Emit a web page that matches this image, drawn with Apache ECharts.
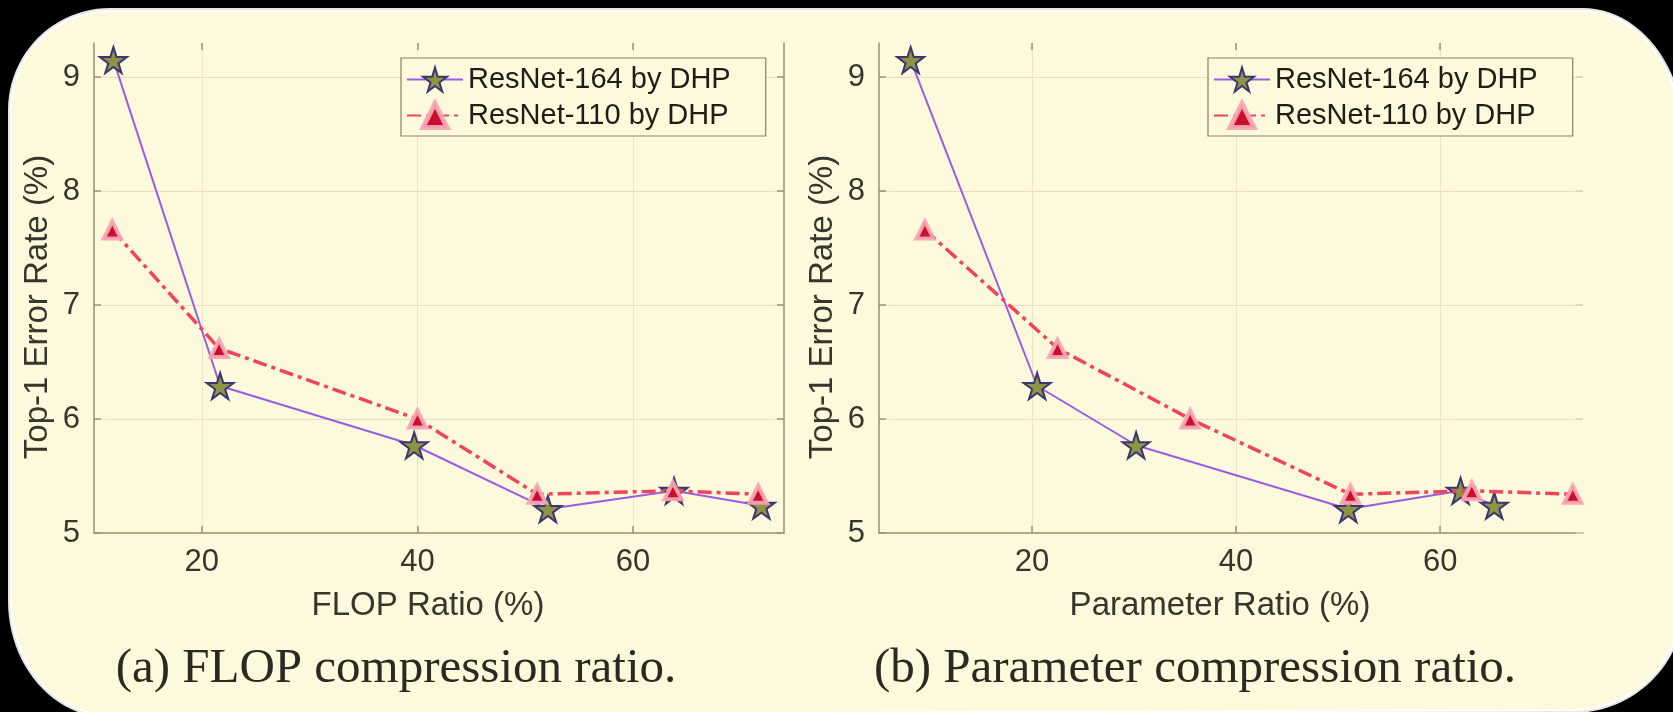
<!DOCTYPE html>
<html>
<head>
<meta charset="utf-8">
<title>DHP: error rate vs compression ratio</title>
<script src="https://cdn.jsdelivr.net/npm/echarts@6/dist/echarts.min.js"></script>
<style>
  html, body { margin: 0; padding: 0; background: #000; }
  #chart { width: 1673px; height: 712px; }
</style>
</head>
<body>
<div id="chart"></div>
<script>
// values
const seriesNames = ["ResNet-164 by DHP", "ResNet-110 by DHP"];
const flopRatio164 = [11.8, 21.7, 39.7, 52.1, 63.8, 71.9];
const flopRatio110 = [11.7, 21.6, 40.0, 51.1, 63.7, 71.6];
const paramRatio164 = [8.1, 20.5, 30.2, 51.0, 62.0, 65.3];
const paramRatio110 = [9.5, 22.5, 35.5, 51.2, 63.1, 73.0];
const error164 = [9.15, 6.29, 5.77, 5.21, 5.37, 5.24];
const error110 = [7.66, 6.62, 6.00, 5.34, 5.37, 5.34];
const xTicks = [20, 40, 60];
const yTicks = [5, 6, 7, 8, 9];
const xNames = ["FLOP Ratio (%)", "Parameter Ratio (%)"];
const yName = "Top-1 Error Rate (%)";
const captions = ["(a) FLOP compression ratio.", "(b) Parameter compression ratio."];

const cream = "#fcf9dc";
const axisColor = "#9a9274";
const labelColor = "#38362c";
const sansFont = "Liberation Sans";
const starPath = "path://M50,0 L61,35 L98,35 L68,57 L79,91 L50,70 L21,91 L32,57 L2,35 L39,35 Z";
const triangleEdge = "rgba(246,166,180,0.92)";

const zip = (xs, ys) => xs.map((x, i) => [x, ys[i]]);

// rounded "slide" shape behind the figure
function cornerPts (cx, cy, rx, ry, a0, a1) {
  const pts = [];
  for (let i = 0; i <= 24; i++) {
    const a = a0 + (a1 - a0) * i / 24;
    pts.push([cx + rx * Math.cos(a), cy + ry * Math.sin(a)]);
  }
  return pts;
}
const PI = Math.PI;
const slidePts = [].concat(
  cornerPts(110, 110, 100, 100, PI, 1.5 * PI),
  cornerPts(1583, 139, 100, 129, 1.5 * PI, 2 * PI),
  cornerPts(1573, 601, 110, 110, 0, 0.5 * PI),
  cornerPts(110, 601, 100, 115, 0.5 * PI, PI)
);

const chart = echarts.init(document.getElementById("chart"));

function bottomAxis (gridIndex, min, name) {
  return {
    type: "value",
    gridIndex,
    position: "bottom",
    min,
    max: 74,
    name,
    nameLocation: "middle",
    nameGap: 56,
    nameTextStyle: { fontSize: 33, color: labelColor, fontFamily: sansFont, padding: [0, 22, 0, 0] },
    axisLine: { show: true, lineStyle: { color: axisColor, width: 1.5 } },
    axisTick: { show: true, inside: true, length: 7, customValues: xTicks, lineStyle: { color: axisColor, width: 1.5 } },
    axisLabel: { customValues: xTicks, fontSize: 31, margin: 14, color: labelColor, fontFamily: sansFont },
    splitLine: { show: true, lineStyle: { color: "#efe2c6", width: 1 } },
  };
}

function topAxis (gridIndex, min) {
  return {
    type: "value",
    gridIndex,
    position: "top",
    min,
    max: 74,
    axisLine: { show: false },
    axisTick: { show: true, inside: true, length: 7, customValues: xTicks, lineStyle: { color: axisColor, width: 1.5 } },
    axisLabel: { show: false },
    splitLine: { show: false },
  };
}

function leftAxis (gridIndex) {
  return {
    type: "value",
    gridIndex,
    position: "left",
    min: 5,
    max: 9.3,
    name: yName,
    nameLocation: "middle",
    nameGap: 40,
    nameTextStyle: { fontSize: 33, color: labelColor, fontFamily: sansFont, padding: [0, 38, 0, 0] },
    axisLine: { show: true, lineStyle: { color: axisColor, width: 1.5 } },
    axisTick: { show: true, inside: true, length: 7, customValues: yTicks, lineStyle: { color: axisColor, width: 1.5 } },
    axisLabel: { customValues: yTicks, fontSize: 31, margin: 14, color: labelColor, fontFamily: sansFont },
    splitLine: { show: true, lineStyle: { color: "#f3d9be", width: 1 } },
  };
}

function rightAxis (gridIndex, showLine) {
  return {
    type: "value",
    gridIndex,
    position: "right",
    min: 5,
    max: 9.3,
    axisLine: { show: showLine, lineStyle: { color: axisColor, width: 1.5 } },
    axisTick: { show: true, inside: true, length: 7, customValues: yTicks, lineStyle: { color: showLine ? axisColor : "#d8d0b8", width: 1.5 } },
    axisLabel: { show: false },
    splitLine: { show: false },
  };
}

function legendAt (left) {
  return {
    left,
    top: 58,
    orient: "vertical",
    data: [
      { name: seriesNames[0] },
      { name: seriesNames[1], itemStyle: { borderColor: triangleEdge, borderWidth: 5 } },
    ],
    selectedMode: false,
    backgroundColor: cream,
    borderColor: "#8a8166",
    borderWidth: 1.2,
    borderRadius: 0,
    padding: [7, 35, 6, 5],
    itemWidth: 56,
    itemHeight: 30,
    itemGap: 7,
    textStyle: { fontSize: 29, color: "#1f1d16", fontFamily: sansFont },
  };
}

function starSeries (axisIndex, xs) {
  return {
    name: seriesNames[0],
    type: "line",
    xAxisIndex: axisIndex,
    yAxisIndex: axisIndex,
    data: zip(xs, error164),
    symbol: starPath,
    symbolSize: [27, 26],
    lineStyle: { color: "#9a5de2", width: 2 },
    itemStyle: { color: "#8f9444", borderColor: "#3b376f", borderWidth: 2 },
    emphasis: { disabled: true },
    z: 3,
  };
}

function triangleSeries (axisIndex, xs) {
  return {
    name: seriesNames[1],
    type: "line",
    xAxisIndex: axisIndex,
    yAxisIndex: axisIndex,
    data: zip(xs, error110),
    symbol: "triangle",
    symbolSize: 17,
    lineStyle: { color: "#ef4559", width: 3.5, type: [14, 5, 4, 5] },
    itemStyle: { color: "#c8102e", borderColor: triangleEdge, borderWidth: 4 },
    emphasis: { disabled: true },
    z: 4,
  };
}

const option = {
  animation: false,
  backgroundColor: "#000",
  graphic: [
    {
      type: "polygon",
      z: -10,
      silent: true,
      shape: { points: slidePts },
      style: { fill: cream, stroke: "rgba(255,255,255,0.9)", lineWidth: 4 },
    },
    {
      type: "text",
      x: 396,
      y: 669,
      z: 5,
      style: { text: captions[0], font: "49px 'Liberation Serif'", fill: "#2a2922", textAlign: "center", textVerticalAlign: "middle", align: "center", verticalAlign: "middle" },
    },
    {
      type: "text",
      x: 1195,
      y: 669,
      z: 5,
      style: { text: captions[1], font: "49px 'Liberation Serif'", fill: "#2a2922", textAlign: "center", textVerticalAlign: "middle", align: "center", verticalAlign: "middle" },
    },
  ],
  grid: [
    { left: 94, top: 43, width: 690, height: 490 },
    { left: 879, top: 43, width: 704, height: 490 },
  ],
  legend: [legendAt(401), legendAt(1208)],
  xAxis: [bottomAxis(0, 10, xNames[0]), topAxis(0, 10), bottomAxis(1, 5, xNames[1]), topAxis(1, 5)],
  yAxis: [leftAxis(0), rightAxis(0, true), leftAxis(1), rightAxis(1, false)],
  series: [
    starSeries(0, flopRatio164),
    triangleSeries(0, flopRatio110),
    starSeries(2, paramRatio164),
    triangleSeries(2, paramRatio110),
  ],
};

chart.setOption(option);
</script>
</body>
</html>
